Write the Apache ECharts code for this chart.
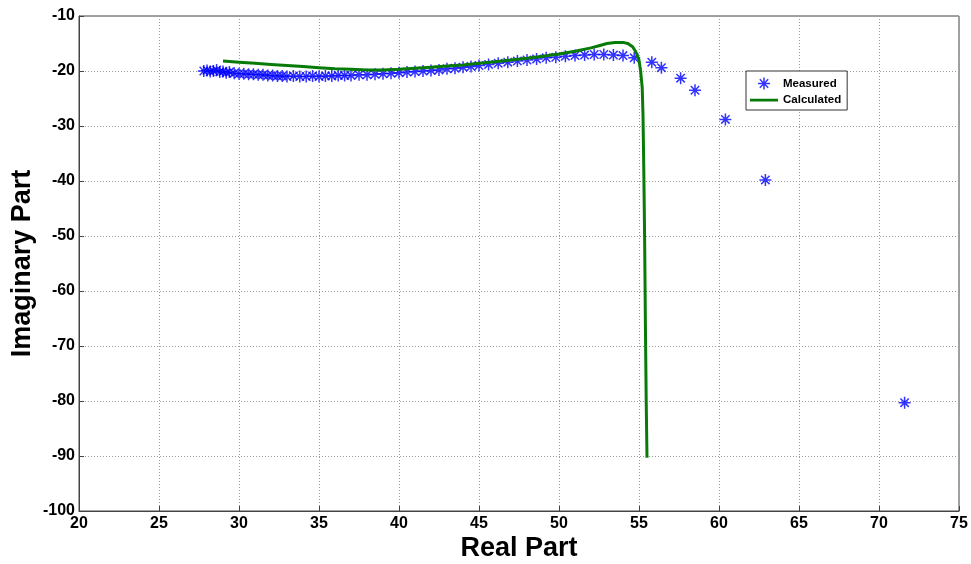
<!DOCTYPE html>
<html>
<head>
<meta charset="utf-8">
<script src="https://cdn.jsdelivr.net/npm/echarts@6/dist/echarts.min.js"></script>
<style>
  html, body { margin: 0; padding: 0; background: #fff; }
  #chart { width: 971px; height: 564px; }
</style>
</head>
<body>
<div id="chart"></div>
<script>
// Measured impedance points (real, imaginary)
const measuredReal = [27.8, 28.0, 28.2, 28.4, 28.6, 28.8, 29.0, 29.2, 29.4, 29.7, 30.0, 30.3, 30.6, 30.9, 31.2, 31.5, 31.8, 32.1, 32.4, 32.7, 33.0, 33.4, 33.8, 34.2, 34.6, 35.0, 35.4, 35.8, 36.2, 36.6, 37.0, 37.5, 38.0, 38.5, 39.0, 39.5, 40.0, 40.5, 41.0, 41.5, 42.0, 42.5, 43.0, 43.5, 44.0, 44.5, 45.0, 45.6, 46.2, 46.8, 47.4, 48.0, 48.6, 49.2, 49.8, 50.4, 51.0, 51.6, 52.2, 52.8, 53.4, 54.0, 54.7, 55.8, 56.4, 57.6, 58.5, 60.4, 62.9, 71.6];
const measuredImag = [-20.0, -19.9, -20.1, -20.0, -19.8, -20.2, -20.1, -20.3, -20.2, -20.4, -20.5, -20.5, -20.6, -20.6, -20.7, -20.7, -20.8, -20.8, -20.9, -20.9, -21.0, -20.9, -21.0, -21.0, -20.9, -21.0, -20.9, -20.9, -20.8, -20.8, -20.8, -20.7, -20.7, -20.6, -20.5, -20.4, -20.3, -20.2, -20.1, -20.0, -19.9, -19.8, -19.6, -19.5, -19.3, -19.2, -19.0, -18.8, -18.6, -18.4, -18.2, -18.0, -17.8, -17.6, -17.5, -17.3, -17.2, -17.1, -17.0, -17.0, -17.1, -17.2, -17.6, -18.4, -19.4, -21.3, -23.5, -28.8, -39.8, -80.3];

// Calculated impedance curve (real, imaginary)
const calculatedReal = [29, 30, 31, 32, 33, 34, 35, 36, 37, 38, 39, 40, 41, 42, 43, 44, 45, 46, 47, 48, 49, 50, 51, 52, 52.5, 53, 53.5, 54, 54.3, 54.6, 54.8, 55.0, 55.1, 55.2, 55.25, 55.3, 55.35, 55.4, 55.45, 55.5];
const calculatedImag = [-18.2, -18.4, -18.6, -18.8, -19.0, -19.2, -19.4, -19.6, -19.7, -19.8, -19.8, -19.7, -19.5, -19.3, -19.1, -18.9, -18.6, -18.3, -18.0, -17.7, -17.3, -16.9, -16.4, -15.8, -15.4, -15.0, -14.8, -14.8, -15.0, -15.6, -16.5, -18.0, -20.0, -23.0, -28.0, -38.0, -50.0, -66.0, -80.0, -90.3];

const xTicks = { min: 20, max: 75, step: 5 };
const yTicks = { min: -100, max: -10, step: 10 };

const zip = (a, b) => a.map((v, i) => [v, b[i]]);

// MATLAB-style asterisk marker, stroked
const asterisk = 'path://M10 0 L10 20 M0 10 L20 10 M3 3 L17 17 M17 3 L3 17';
// Plain line legend icon: a thin bar, with tiny corner specks fixing the 28x12 box
const lineIcon = 'path://M0 0 L0.01 0 L0.01 0.01 Z M0 4.8 L28 4.8 L28 7.4 L0 7.4 Z M27.99 12 L28 12 L28 11.99 Z';

const FONT = 'Liberation Sans, Arial, sans-serif';
const tickFont = { color: '#000', fontFamily: FONT, fontWeight: 'bold', fontSize: 16 };
const titleFont = { color: '#000', fontFamily: FONT, fontWeight: 'bold', fontSize: 27 };
const gridLine = { show: true, lineStyle: { color: '#9a9a9a', type: [1, 2], width: 1 } };
const GREEN = '#087a08';
const BLUE = '#0000ff';

const chart = echarts.init(document.getElementById('chart'), null, { renderer: 'canvas' });
chart.setOption({
  backgroundColor: '#fff',
  animation: false,
  grid: {
    left: 79, right: 12, top: 16, bottom: 53,
    containLabel: false, outerBoundsMode: 'none',
    show: true, borderColor: '#444', borderWidth: 1, backgroundColor: 'transparent'
  },
  legend: {
    left: 746, top: 71, orient: 'vertical',
    backgroundColor: '#fff', borderColor: '#333', borderWidth: 1,
    padding: [4, 6, 4, 4], itemGap: 2, itemWidth: 28, itemHeight: 12,
    textStyle: { color: '#000', fontFamily: FONT, fontWeight: 'bold', fontSize: 11.5 },
    data: [
      { name: 'Measured', icon: asterisk, itemStyle: { color: 'none', borderColor: BLUE, borderWidth: 1.5 } },
      { name: 'Calculated', icon: lineIcon, itemStyle: { color: GREEN, borderWidth: 0 } }
    ]
  },
  xAxis: {
    type: 'value', min: xTicks.min, max: xTicks.max, interval: xTicks.step,
    name: 'Real Part', nameLocation: 'middle', nameGap: 24, nameMoveOverlap: false,
    nameTextStyle: titleFont,
    axisLine: { show: true, onZero: false, lineStyle: { color: '#444' } },
    axisTick: { show: true, inside: true, length: 5, lineStyle: { color: '#444' } },
    axisLabel: Object.assign({ margin: 5 }, tickFont),
    splitLine: gridLine
  },
  yAxis: {
    type: 'value', min: yTicks.min, max: yTicks.max, interval: yTicks.step,
    name: 'Imaginary Part', nameLocation: 'middle', nameGap: 43, nameMoveOverlap: false,
    nameTextStyle: titleFont,
    axisLine: { show: true, onZero: false, lineStyle: { color: '#444' } },
    axisTick: { show: true, inside: true, length: 5, lineStyle: { color: '#444' } },
    axisLabel: Object.assign({ margin: 4 }, tickFont),
    splitLine: gridLine
  },
  series: [
    {
      name: 'Measured', type: 'scatter',
      data: zip(measuredReal, measuredImag),
      symbol: asterisk, symbolSize: 12,
      itemStyle: { color: 'none', borderColor: BLUE, borderWidth: 1.5 },
      z: 3
    },
    {
      name: 'Calculated', type: 'line',
      data: zip(calculatedReal, calculatedImag),
      symbol: 'none', smooth: false,
      lineStyle: { color: GREEN, width: 3 },
      itemStyle: { color: GREEN },
      z: 4
    }
  ]
});
</script>
</body>
</html>
